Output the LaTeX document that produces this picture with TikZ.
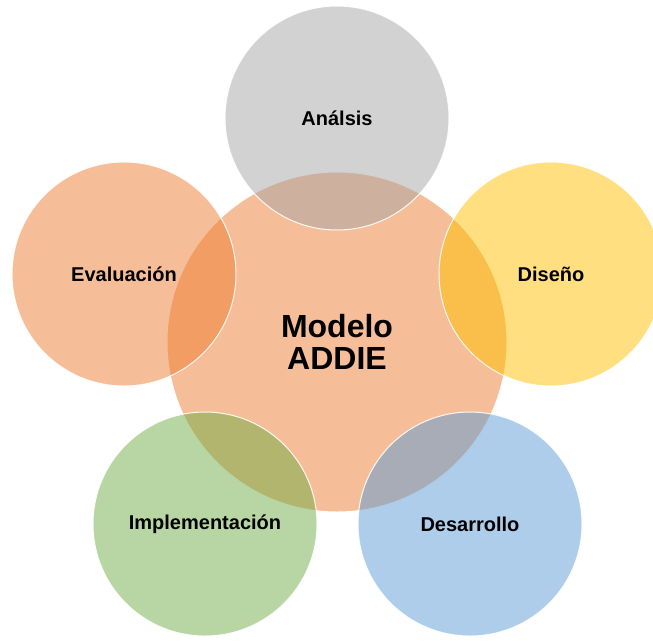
\documentclass[tikz,border=0pt]{standalone}
\usepackage{fontspec}
\setmainfont{Liberation Sans}
\definecolor{cOrange}{HTML}{ED7D31}
\definecolor{cGray}{HTML}{A5A5A5}
\definecolor{cYellow}{HTML}{FFC000}
\definecolor{cGreen}{HTML}{70AD47}
\definecolor{cBlue}{HTML}{5B9BD5}
\tikzset{
  phase/.style={circle, draw=white, line width=1pt, fill opacity=0.5, draw opacity=0.9, text opacity=1,
    inner sep=0pt, minimum size=224pt, font=\fontsize{20}{24}\selectfont\bfseries, text=black},
  hub/.style={circle, draw=white, line width=1pt, fill opacity=0.5, text opacity=1,
    inner sep=0pt, minimum size=340pt, align=center, font=\fontsize{32}{32}\selectfont\bfseries, text=black}
}
\begin{document}
\begin{tikzpicture}[x=1pt,y=-1pt]
\useasboundingbox (0,0) rectangle (653,641);
\clip (0,0) rectangle (653,641);
\node[hub, fill=cOrange] (hubc) at (337,342) {Modelo\\ADDIE};
\node[phase, fill=cGray] (ana) at (337,118) {Análsis};
\node[phase, fill=cOrange] (eva) at (124,274) {Evaluación};
\node[phase, fill=cYellow] (dis) at (551,274) {Diseño};
\node[phase, fill=cGreen] (imp) at (205,524) {Implementación};
\node[phase, fill=cBlue] (des) at (470,524) {Desarrollo};
\end{tikzpicture}
\end{document}
